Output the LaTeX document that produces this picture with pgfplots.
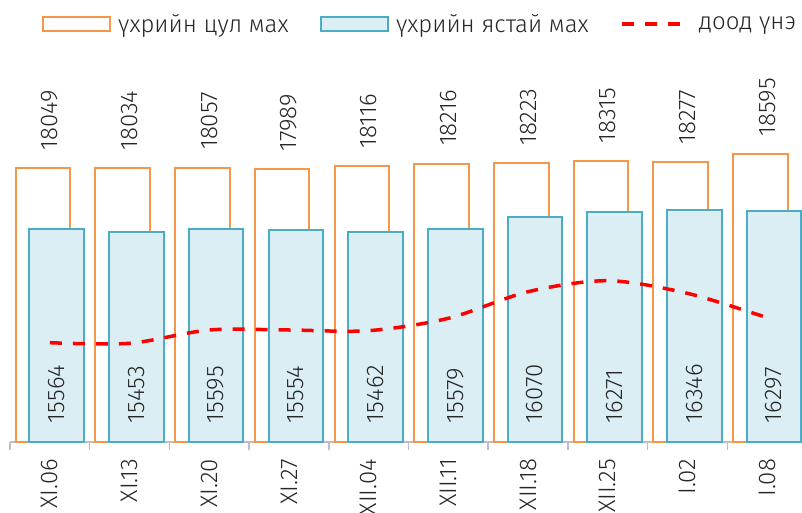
\documentclass[border=0pt]{standalone}
\usepackage{fontspec}
\setmainfont{Fira Sans Light}
\usepackage{pgfplots}
\usepackage{pgfplotstable}
\pgfplotsset{compat=1.18}
\definecolor{culor}{HTML}{F79646}
\definecolor{yastline}{HTML}{4BACC6}
\definecolor{yastfill}{HTML}{DAEEF3}
\definecolor{axgray}{HTML}{BFBFBF}
\definecolor{txt}{HTML}{262626}

\pgfplotstableread{
idx cul yast dood
0 18049 15564 10994
1 18034 15453 10969
2 18057 15595 11506
3 17989 15554 11506
4 18116 15462 11478
5 18216 15579 11978
6 18223 16070 13051
7 18315 16271 13495
8 18277 16346 12986
9 18595 16297 12002
}\data

\newcommand{\lblfont}{\fontsize{24}{28}\selectfont}
\pgfplotsset{
  barlegend/.style={legend image code/.code={\draw[##1, line width=2pt] (0pt,-7pt) rectangle (67pt,7pt);}},
  linelegend/.style={legend image code/.code={\pgfpathrectangle{\pgfpoint{0pt}{-7pt}}{\pgfpoint{70pt}{14pt}}\pgfusepath{}\draw[##1] (0pt,0pt) -- (58pt,0pt);}},
}

\begin{document}
\begin{tikzpicture}
\begin{axis}[
  scale only axis, width=797pt, height=441.7pt,
  xmin=-0.5, xmax=9.5, ymin=7000, ymax=24818,
  axis x line*=bottom, axis y line=none,
  x axis line style={draw=axgray, line width=2pt},
  xtick={0,...,9},
  xticklabels={XI.06,XI.13,XI.20,XI.27,XII.04,XII.11,XII.18,XII.25,I.02,I.08},
  major tick length=0pt,
  minor xtick={-0.5,0.5,...,9.5},
  minor tick length=8pt,
  tick align=outside,
  minor tick style={draw=axgray, line width=1.5pt},
  xticklabel style={rotate=90, anchor=east, inner sep=0pt, font=\lblfont, text=txt},
  xticklabel shift=17pt,
  clip=false,
  /pgf/number format/assume math mode=true,
  legend style={at={(axis description cs:0.0402,0.9457)}, anchor=west,
    draw=none, fill=none, inner sep=0pt, legend columns=-1, font=\lblfont,
    nodes={inner sep=0pt, text=txt},
    /tikz/every odd column/.append style={column sep=7pt},
    /tikz/every even column/.append style={column sep=31.5pt}},
  legend cell align=left,
]
\addplot[ybar, bar width=54.6pt, bar shift=-6.85pt, draw=culor, fill=white, line width=2pt,
  nodes near coords={\pgfmathprintnumber[fixed,precision=0,1000 sep={},assume math mode=true]{\pgfplotspointmeta}},
  every node near coord/.append style={rotate=90, anchor=west, inner sep=0pt, outer xsep=17.7pt, text=txt, font=\lblfont},
  barlegend]
  table[x=idx,y=cul]{\data};
\addlegendentry{үхрийн цул мах}
\addplot[ybar, bar width=54.6pt, bar shift=6.85pt, draw=yastline, fill=yastfill, line width=2pt,
  barlegend]
  table[x=idx,y=yast]{\data};
\addlegendentry{үхрийн ястай мах}
\addplot[red, dash pattern=on 12pt off 11pt, line width=3.5pt, smooth, mark=none, linelegend]
  table[x=idx,y=dood]{\data};
\addlegendentry{доод үнэ}
\addplot[draw=none, mark=none, forget plot, point meta=explicit,
  nodes near coords={\pgfmathprintnumber[fixed,precision=0,1000 sep={},assume math mode=true]{\pgfplotspointmeta}},
  every node near coord/.append style={rotate=90, anchor=west, inner sep=0pt, outer xsep=18.7pt, text=txt, font=\lblfont}]
  table[x expr=\thisrow{idx}+0.086, y expr=7000, meta=yast]{\data};
\end{axis}
\pgfresetboundingbox
\path[use as bounding box] (-10pt,-71.3pt) rectangle (792pt,441.7pt);
\end{tikzpicture}
\end{document}
